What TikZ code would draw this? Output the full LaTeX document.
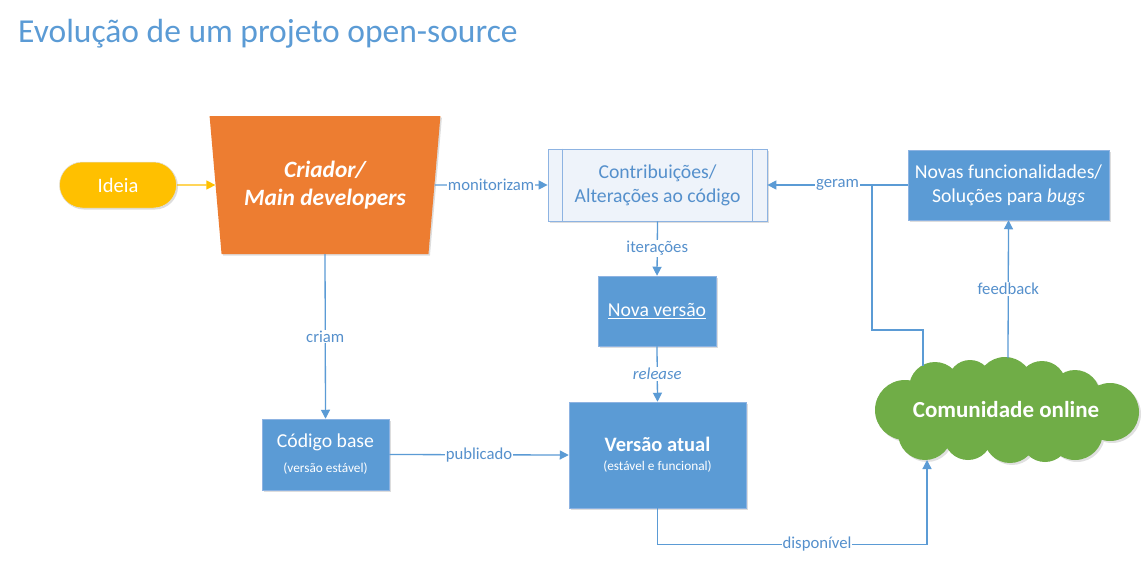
\documentclass[tikz,border=0pt]{standalone}
\usepackage{fontspec}
\setmainfont{Carlito}
\usetikzlibrary{shapes.geometric,arrows.meta,shadows}
\definecolor{bl}{HTML}{5B9BD5}
\definecolor{bltxt}{HTML}{5590CC}
\definecolor{lightbl}{HTML}{EEF3FA}
\definecolor{blborder}{HTML}{8DB3E2}
\definecolor{org}{HTML}{ED7D31}
\definecolor{yel}{HTML}{FFC000}
\definecolor{grn}{HTML}{70AD47}
\begin{document}
\begin{tikzpicture}[x=1pt,y=-1pt,
  conn/.style={draw=bl, line width=1.3pt, -{Triangle[length=9pt,width=9pt]}},
  plain/.style={draw=bl, line width=1.3pt},
  lbl/.style={fill=white, text=bltxt, font=\fontsize{16.7}{19}\selectfont, inner sep=1pt},
  shad/.style={drop shadow={shadow xshift=1.5pt,shadow yshift=-1.5pt,opacity=.22,fill=black!60}},
  bluebox/.style={rectangle, fill=bl, draw=blborder, line width=.5pt, text=white, inner sep=0pt, align=center, font=\fontsize{19.7}{23}\selectfont, shad}]
\useasboundingbox (0,0) rectangle (1148,562);
\fill[white] (0,0) rectangle (1148,562);

\node[anchor=base west, text=bl, font=\fontsize{33.5}{40}\selectfont, inner sep=0pt] (title) at (18,42) {Evolução de um projeto open-source};

% Ideia
\node[rectangle, rounded corners=23pt, fill=yel, draw=black!12, line width=.5pt, minimum width=117pt, minimum height=46pt, inner sep=0pt, text=white, font=\fontsize{20.5}{24}\selectfont, shad] (ideia) at (118,185) {Ideia};

% Criador trapezium
\node[trapezium, shape border rotate=180, trapezium angle=79, trapezium stretches=true, minimum width=231pt, minimum height=138pt, fill=org, inner sep=0pt, text=white, align=center, font=\fontsize{23.4}{28}\selectfont\bfseries\itshape, shad] (crd) at (325,185) {Criador/\\Main developers};

% Contribuicoes
\node[rectangle, fill=lightbl, draw=blborder, line width=.8pt, minimum width=219pt, minimum height=72pt, inner sep=0pt, text=bltxt, align=center, font=\fontsize{19.7}{24}\selectfont, shad] (contr) at (657.5,185) {Contribuições/\\Alterações ao código};
\draw[blborder, line width=.8pt] ([xshift=15pt]contr.north west) -- ([xshift=15pt]contr.south west);
\draw[blborder, line width=.8pt] ([xshift=-15pt]contr.north east) -- ([xshift=-15pt]contr.south east);

% Novas funcionalidades
\node[bluebox, minimum width=201pt, minimum height=70pt, font=\fontsize{19.7}{24}\selectfont] (novas) at (1008.5,185) {Novas funcionalidades/\\Soluções para \textit{bugs}};

% Nova versao
\node[bluebox, minimum width=118pt, minimum height=70pt] (nv) at (657,311) {\underline{Nova versão}};

% Versao atual
\node[bluebox, minimum width=177pt, minimum height=106pt] (va) at (657.5,455) {\fontsize{20.5}{24}\selectfont\textbf{Versão atual}\\[-4pt]{\fontsize{13.3}{15}\selectfont (estável e funcional)}};

% Codigo base
\node[bluebox, minimum width=127pt, minimum height=71pt] (cb) at (325.5,454.5) {Código base\\[2pt]{\fontsize{13.3}{15}\selectfont (versão estável)}};

% Cloud (union of puffs)
\begin{scope}
\fill[black, opacity=.12] (907,412) circle[radius=30] (937,390) circle[radius=26] (1007,387) circle[radius=28] (1077,397) circle[radius=25] (1112,414) circle[radius=29] (1077,434) circle[radius=28] (1012,439) circle[radius=26] (927,435) circle[radius=27];
\fill[grn] (905,410) circle[radius=30]
  (935,388) circle[radius=26]
  (970,382) circle[radius=22]
  (1005,385) circle[radius=28]
  (1042,385) circle[radius=24]
  (1075,395) circle[radius=25]
  (1110,412) circle[radius=29]
  (1075,432) circle[radius=28]
  (1045,438) circle[radius=24]
  (1010,437) circle[radius=26]
  (968,436) circle[radius=24]
  (925,433) circle[radius=27]
  (1006,410) ellipse[x radius=110, y radius=36];
\end{scope}
\node[text=white, font=\fontsize{23}{26}\selectfont\bfseries, inner sep=0pt] (com) at (1006,410) {Comunidade online};

\coordinate (comtop) at (923,366);
\coordinate (comfb) at (1008,358);
\coordinate (combot) at (927,460);
\coordinate (bend) at (872,330);

% connectors
\draw[yel, line width=1.3pt, -{Triangle[length=9pt,width=9pt]}] (ideia.east) -- (crd.west);
\draw[conn] (crd.east) -- node[lbl]{monitorizam} (contr.west);
\draw[conn] (novas.west) -- node[lbl]{geram} (contr.east);
\draw[plain] (comtop) |- (bend) -- (bend |- novas.west);
\draw[conn] (comfb) -- node[lbl]{feedback} (novas.south);
\draw[conn] (contr.south) -- node[lbl]{iterações} (nv.north);
\draw[conn] (nv.south) -- node[lbl, font=\fontsize{16.7}{19}\selectfont\itshape]{release} (va.north);
\draw[conn] (crd.south) -- node[lbl]{criam} (cb.north);
\draw[conn] (cb.east) -- node[lbl]{publicado} (va.west);
\draw[conn] (va.south) -- ++(0,36) -| node[lbl, pos=0.296]{disponível} (combot);
\end{tikzpicture}
\end{document}
